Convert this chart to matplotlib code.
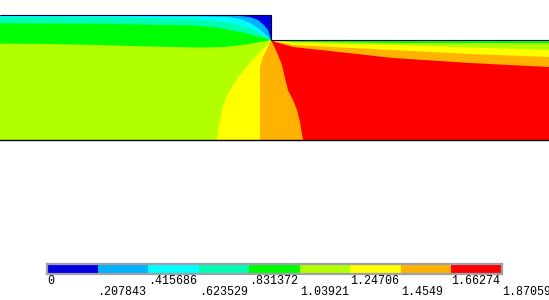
import numpy as np
import matplotlib
matplotlib.use("Agg")
import matplotlib.pyplot as plt
from matplotlib.patches import Polygon
from matplotlib.transforms import blended_transform_factory

# legend levels and labels (as printed under the colour bar)
levels = [0, 0.207843, 0.415686, 0.623529, 0.831372, 1.03921, 1.24706, 1.4549, 1.66274, 1.87059]
level_labels = ["0", ".207843", ".415686", ".623529", ".831372", "1.03921", "1.24706", "1.4549", "1.66274", "1.87059"]
band_colors = ["#0000e0", "#00b2ff", "#00ffff", "#00ffb2", "#00ff00",
               "#b2ff00", "#ffff00", "#ffb200", "#ff0000"]

# channel geometry: inlet part is taller, step at x_step, y = 0 is the centre line
inlet_h = 1.25
outlet_h = 1.00
x_step = 2.71
length = 5.49

# band boundaries (x, y); each one passes through the step corner
iso_1 = [(0, 1.247), (1.00, 1.247), (2.00, 1.245), (2.38, 1.242), (2.50, 1.23), (2.58, 1.20),
         (2.64, 1.15), (2.68, 1.10), (2.70, 1.04), (2.71, 1.00), (2.80, 0.997), (5.49, 0.997)]
iso_2 = [(0, 1.242), (1.00, 1.241), (2.00, 1.237), (2.28, 1.23), (2.40, 1.21), (2.50, 1.17),
         (2.58, 1.12), (2.64, 1.07), (2.69, 1.02), (2.71, 1.00), (2.85, 0.995), (5.49, 0.994)]
iso_3 = [(0, 1.227), (1.00, 1.225), (1.95, 1.21), (2.15, 1.195), (2.30, 1.175), (2.50, 1.12),
         (2.62, 1.06), (2.68, 1.02), (2.71, 1.00), (2.90, 0.993), (5.49, 0.99)]
iso_4 = [(0, 1.167), (1.00, 1.162), (1.95, 1.145), (2.20, 1.12), (2.45, 1.07), (2.60, 1.03),
         (2.71, 1.00), (2.93, 0.99), (5.49, 0.986)]
iso_5 = [(0, 0.965), (0.50, 0.96), (1.00, 0.95), (1.50, 0.935), (2.00, 0.925), (2.25, 0.93),
         (2.45, 0.955), (2.60, 0.98), (2.71, 1.00), (2.93, 0.983), (3.93, 0.97), (5.49, 0.968)]
iso_6 = [(2.17, 0), (2.19, 0.15), (2.22, 0.30), (2.27, 0.45), (2.33, 0.55), (2.40, 0.65),
         (2.48, 0.75), (2.56, 0.84), (2.63, 0.91), (2.68, 0.96), (2.71, 1.00),
         (2.80, 0.987), (2.93, 0.973), (3.93, 0.95), (4.70, 0.925), (5.49, 0.90)]
iso_7 = [(2.60, 0), (2.60, 0.73), (2.63, 0.83), (2.67, 0.91), (2.71, 1.00),
         (2.78, 0.983), (2.93, 0.95), (3.93, 0.90), (4.70, 0.86), (5.49, 0.83)]
iso_8 = [(3.03, 0), (3.00, 0.18), (2.97, 0.30), (2.93, 0.40), (2.88, 0.50), (2.85, 0.62),
         (2.82, 0.75), (2.78, 0.85), (2.74, 0.94), (2.71, 1.00),
         (2.75, 0.98), (2.93, 0.93), (3.30, 0.89), (3.93, 0.82), (4.70, 0.77), (5.49, 0.73)]
iso_lines = [iso_1, iso_2, iso_3, iso_4, iso_5, iso_6, iso_7, iso_8]

fig = plt.figure(figsize=(5.49, 3.0), dpi=100)

ax = fig.add_axes([0, 155 / 300, 1, 135 / 300])
ax.set_xlim(0, length)
ax.set_ylim(-0.05, 1.30)
ax.axis("off")

domain = [(0, 0), (0, inlet_h), (x_step, inlet_h), (x_step, outlet_h), (length, outlet_h), (length, 0)]
ax.add_patch(Polygon(domain, closed=True, fc=band_colors[0], ec="none"))

# fill each region above a level, lowest first
for k, curve in enumerate(iso_lines):
    pts = list(curve)
    if pts[0][0] == 0:
        pts += [(length, 0), (0, 0)]
    else:
        pts += [(length, 0)]
    ax.add_patch(Polygon(pts, closed=True, fc=band_colors[k + 1], ec="none"))

ax.plot([0, x_step, x_step, length], [inlet_h, inlet_h, outlet_h, outlet_h],
        color="#000050", lw=0.8, solid_capstyle="butt")
ax.plot([0, length], [0, 0], color="black", lw=1.0)

# colour bar
cax = fig.add_axes([47 / 549, 26 / 300, 455 / 549, 10 / 300])
cax.bar(levels[:-1], 1, width=np.diff(levels), align="edge", color=band_colors)
cax.set_xlim(levels[0], levels[-1])
cax.set_ylim(0, 1)
cax.set_xticks([])
cax.set_yticks([])
for s in cax.spines.values():
    s.set_color("#a0a0aa")
    s.set_linewidth(1.6)

trans = blended_transform_factory(cax.transData, fig.transFigure)
for i, (lev, lab) in enumerate(zip(levels, level_labels)):
    y = 15.5 / 300 if i % 2 == 0 else 5 / 300
    cax.text(lev, y, lab, transform=trans, ha="left", va="baseline",
             family="Liberation Mono", fontsize=8.4, color="black", clip_on=False)

fig.savefig("out.png", dpi=100)
